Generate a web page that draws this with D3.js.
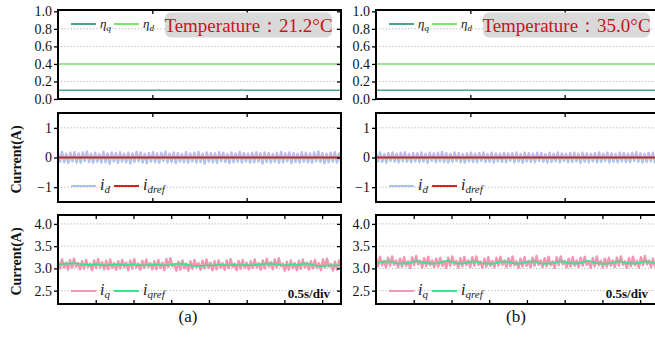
<!DOCTYPE html>
<html lang="en">
<head>
<meta charset="utf-8">
<title>Temperature comparison</title>
<script src="https://cdn.jsdelivr.net/npm/d3@7"></script>
<style>
  body { margin: 0; background: #fff; }
</style>
</head>
<body>
<script>
// ---- data ----
var timeEnd = 3.75;                       // 7.5 div of 0.5 s
var temps = ["21.2", "35.0"];
var panelTags = ["(a)", "(b)"];

var etaQ = [0.1, 0.1];
var etaD = [0.4, 0.4];

var etaTicks = [0, 0.2, 0.4, 0.6, 0.8, 1.0];
var idTicks = [-1, 0, 1];
var iqTicks = [2.5, 3.0, 3.5, 4.0];

var idrefA = [0, 0];
var idrefB = [0, 0];

var idA = [0.17,-0.14,0.19,-0.16,0.13,-0.19,0.16,-0.13,0.18,-0.17,0.14,-0.18,0.17,-0.12,0.20,-0.15,0.13,-0.18,0.16,-0.14,
  0.12,-0.17,0.19,-0.16,0.14,-0.21,0.17,-0.13,0.15,-0.18,0.18,-0.14,0.13,-0.16,0.16,-0.20,0.14,-0.15,0.19,-0.13,
  0.17,-0.17,0.12,-0.19,0.15,-0.14,0.18,-0.16,0.14,-0.18,0.16,-0.12,0.20,-0.17,0.13,-0.15,0.17,-0.19,0.15,-0.14,
  0.12,-0.16,0.18,-0.18,0.14,-0.13,0.16,-0.17,0.19,-0.15,0.13,-0.20,0.17,-0.14,0.15,-0.16,0.14,-0.18,0.18,-0.13,
  0.16,-0.15,0.12,-0.19,0.17,-0.16,0.14,-0.14,0.19,-0.17,0.15,-0.13,0.13,-0.18,0.16,-0.16,0.18,-0.14,0.14,-0.20,
  0.17,-0.15,0.15,-0.17,0.12,-0.14,0.16,-0.18,0.19,-0.16,0.14,-0.13,0.17,-0.19,0.15,-0.15,0.13,-0.17,0.18,-0.14,
  0.16,-0.16,0.14,-0.18,0.17,-0.13,0.20,-0.15,0.15,-0.19,0.13,-0.16,0.16,-0.14,0.18,-0.17,0.14,-0.15];

var idB = [0.15,-0.13,0.17,-0.15,0.12,-0.17,0.15,-0.12,0.17,-0.14,0.13,-0.16,0.16,-0.13,0.18,-0.14,0.12,-0.16,0.15,-0.13,
  0.14,-0.15,0.17,-0.14,0.13,-0.18,0.16,-0.12,0.14,-0.16,0.16,-0.13,0.19,-0.15,0.15,-0.17,0.13,-0.14,0.17,-0.12,
  0.15,-0.16,0.12,-0.17,0.14,-0.13,0.16,-0.15,0.13,-0.16,0.15,-0.12,0.17,-0.15,0.12,-0.14,0.16,-0.17,0.14,-0.13,
  0.13,-0.15,0.16,-0.16,0.14,-0.12,0.15,-0.16,0.17,-0.14,0.12,-0.18,0.16,-0.13,0.14,-0.15,0.13,-0.16,0.16,-0.12,
  0.15,-0.14,0.12,-0.17,0.16,-0.15,0.13,-0.13,0.17,-0.16,0.14,-0.12,0.12,-0.16,0.15,-0.15,0.16,-0.13,0.13,-0.18,
  0.16,-0.14,0.14,-0.16,0.12,-0.13,0.15,-0.16,0.17,-0.15,0.13,-0.12,0.16,-0.17,0.14,-0.14,0.12,-0.16,0.16,-0.13,
  0.15,-0.15,0.13,-0.16,0.16,-0.12,0.18,-0.14,0.14,-0.17,0.12,-0.15,0.15,-0.13,0.16,-0.16,0.13,-0.14];

var iqA = [3.17,3.00,3.20,3.02,3.13,2.97, 3.19,3.01,3.22,3.04,3.12,2.98, 3.16,2.99,3.19,3.03,3.11,2.96,
  3.18,3.01,3.21,3.02,3.14,2.98, 3.17,2.98,3.20,3.01,3.12,2.97, 3.16,3.00,3.19,3.03,3.13,2.96,
  3.18,2.99,3.21,3.02,3.11,2.97, 3.17,3.01,3.20,3.03,3.12,2.98, 3.16,2.98,3.19,3.01,3.13,2.96,
  3.21,3.03,3.23,3.05,3.10,2.95, 3.15,2.97,3.18,3.00,3.11,2.95, 3.16,2.99,3.19,3.02,3.12,2.97,
  3.17,3.00,3.20,3.01,3.13,2.96, 3.16,2.98,3.18,3.02,3.12,2.97, 3.18,3.00,3.21,3.03,3.11,2.96,
  3.17,2.99,3.19,3.01,3.13,2.98, 3.16,3.01,3.20,3.02,3.12,2.97, 3.18,3.00,3.22,3.04,3.14,2.98,
  3.20,3.02,3.23,3.05,3.11,2.95, 3.15,2.97,3.18,3.00,3.12,2.96, 3.17,2.99,3.20,3.02,3.13,2.97,
  3.16,3.00,3.19,3.01,3.12,2.96, 3.20,3.02,3.22,3.04,3.10,2.95, 3.15,2.97,3.18,3.00];

var iqB = [3.23,3.05,3.26,3.07,3.17,3.02, 3.24,3.06,3.27,3.08,3.18,3.03, 3.22,3.04,3.25,3.06,3.16,3.01,
  3.25,3.07,3.28,3.09,3.17,3.02, 3.23,3.05,3.26,3.07,3.18,3.03, 3.22,3.04,3.24,3.06,3.16,3.01,
  3.24,3.06,3.27,3.08,3.17,3.02, 3.23,3.05,3.26,3.07,3.18,3.03, 3.25,3.06,3.27,3.08,3.16,3.01,
  3.22,3.04,3.25,3.06,3.17,3.02, 3.24,3.06,3.26,3.08,3.18,3.03, 3.23,3.05,3.27,3.07,3.16,3.01,
  3.22,3.04,3.25,3.06,3.17,3.02, 3.24,3.06,3.28,3.08,3.18,3.03, 3.23,3.05,3.26,3.07,3.16,3.01,
  3.25,3.07,3.27,3.09,3.17,3.02, 3.22,3.04,3.25,3.06,3.18,3.03, 3.24,3.06,3.26,3.08,3.16,3.01,
  3.23,3.05,3.27,3.07,3.17,3.02, 3.22,3.04,3.24,3.06,3.18,3.03, 3.24,3.06,3.27,3.08,3.16,3.01,
  3.23,3.05,3.26,3.07,3.17,3.02, 3.25,3.07,3.28,3.09,3.18,3.03, 3.22,3.04,3.25,3.06];

var iqrefA = [3.09,3.10,3.11,3.12,3.10,3.08,3.08,3.09,3.08,3.07,3.08,3.09,3.08,3.08,3.09,3.08,3.07,3.08,
  3.09,3.08,3.07,3.08,3.10,3.11,3.09,3.06,3.05,3.06,3.07,3.07,3.08,3.08,3.07,3.08,3.07,3.08,
  3.07,3.08,3.09,3.10,3.11,3.09,3.07,3.08,3.09,3.08,3.11,3.10,3.07,3.05,3.06,3.07,3.07,3.08];

var iqrefB = [3.12,3.14,3.16,3.15,3.12,3.11, 3.11,3.13,3.16,3.16,3.13,3.11, 3.11,3.12,3.15,3.17,3.14,3.11,
  3.11,3.13,3.16,3.15,3.12,3.11, 3.10,3.12,3.15,3.16,3.13,3.11, 3.11,3.13,3.16,3.15,3.12,3.10,
  3.11,3.12,3.15,3.16,3.13,3.11, 3.11,3.13,3.17,3.15,3.12,3.11, 3.10,3.12,3.15,3.16,3.13,3.11,
  3.11,3.13,3.16,3.15,3.12,3.11];

// ---- layout ----
var w = 655, h = 337;
var serif = "'Liberation Serif', 'Times New Roman', serif";
var panelW = 283;
var colX = [58, 376];
var rows = [
  { top: 10, bottom: 99, domain: [0, 1.015], ticks: etaTicks, fmt: d3.format(".1f"), xTicks: [1.25, 2.5] },
  { top: 113, bottom: 202, domain: [-1.5, 1.5], ticks: idTicks, fmt: d3.format("d"), xTicks: [1.25, 2.5] },
  { top: 215, bottom: 304, domain: [2.2, 4.2], ticks: iqTicks, fmt: d3.format(".1f"), xTicks: [0.5, 1, 1.5, 2, 2.5, 3, 3.5] }
];

var colors = {
  etaQ: "#45a98a", etaD: "#77e86a",
  id: "#adc3ec", idref: "#d42222",
  iq: "#f396b2", iqref: "#3de28d"
};

var svg = d3.select("body").append("svg")
  .attr("width", w)
  .attr("height", h)
  .style("font-family", serif);

var defs = svg.append("defs");

function seriesLine(x, y, vals) {
  var n = vals.length;
  return d3.line()
    .x(function(d, i) { return x(i / (n - 1) * timeEnd); })
    .y(function(d) { return y(d); })(vals);
}

function drawPanel(c, r) {
  var row = rows[r];
  var x0 = colX[c];
  var x = d3.scaleLinear().domain([0, timeEnd]).range([x0, x0 + panelW]);
  var y = d3.scaleLinear().domain(row.domain).range([row.bottom, row.top]);
  var g = svg.append("g");
  var clipId = "clip" + c + r;

  defs.append("clipPath").attr("id", clipId)
    .append("rect")
    .attr("x", x0).attr("y", row.top)
    .attr("width", panelW).attr("height", row.bottom - row.top);

  // dotted grid
  g.selectAll(".grid")
    .data(row.ticks.filter(function(t) { return r > 0 || (t > 0 && t < 1); }))
    .enter().append("line")
    .attr("x1", x0).attr("x2", x0 + panelW)
    .attr("y1", function(d) { return y(d); })
    .attr("y2", function(d) { return y(d); })
    .attr("stroke", "#b5b5b5")
    .attr("stroke-width", 1)
    .attr("stroke-dasharray", "1.2,2");

  var plot = g.append("g").attr("clip-path", "url(#" + clipId + ")");

  // series
  var series;
  if (r === 0) {
    series = [[etaQ, colors.etaQ, 1.4], [etaD, colors.etaD, 1.6]];
  } else if (r === 1) {
    series = [[c === 0 ? idA : idB, colors.id, 2.4], [c === 0 ? idrefA : idrefB, colors.idref, 2]];
  } else {
    series = [[c === 0 ? iqA : iqB, colors.iq, 2.4], [c === 0 ? iqrefA : iqrefB, colors.iqref, 1.8]];
  }
  series.forEach(function(s) {
    plot.append("path")
      .attr("d", seriesLine(x, y, s[0]))
      .attr("fill", "none")
      .attr("stroke", s[1])
      .attr("stroke-width", s[2])
      .attr("stroke-linejoin", "round");
  });

  // y axis left (outer ticks with labels)
  g.append("g")
    .attr("transform", "translate(" + x0 + ",0)")
    .call(d3.axisLeft(y).tickValues(row.ticks).tickSize(4).tickPadding(2).tickFormat(row.fmt))
    .call(function(a) {
      a.select(".domain").remove();
      a.attr("font-family", serif).attr("font-size", 14);
      a.selectAll(".tick line").attr("stroke-width", 1.3);
      a.selectAll(".tick text").attr("fill", "#111");
    });

  // y ticks right (inner)
  g.append("g")
    .attr("transform", "translate(" + (x0 + panelW) + ",0)")
    .call(d3.axisLeft(y).tickValues(row.ticks).tickSize(4).tickFormat(""))
    .call(function(a) { a.select(".domain").remove(); a.selectAll(".tick line").attr("stroke-width", 1.3); });

  // x ticks top and bottom (inner)
  g.append("g")
    .attr("transform", "translate(0," + row.top + ")")
    .call(d3.axisBottom(x).tickValues(row.xTicks).tickSize(4).tickFormat(""))
    .call(function(a) { a.select(".domain").remove(); a.selectAll(".tick line").attr("stroke-width", 1.3); });
  g.append("g")
    .attr("transform", "translate(0," + row.bottom + ")")
    .call(d3.axisTop(x).tickValues(row.xTicks).tickSize(4).tickFormat(""))
    .call(function(a) { a.select(".domain").remove(); a.selectAll(".tick line").attr("stroke-width", 1.3); });

  // frame
  g.append("rect")
    .attr("x", x0).attr("y", row.top)
    .attr("width", panelW).attr("height", row.bottom - row.top)
    .attr("fill", "none")
    .attr("stroke", "#000")
    .attr("stroke-width", 2);

  // legend
  var names, legendColors, legY;
  if (r === 0) { names = [["\u03b7", "q"], ["\u03b7", "d"]]; legendColors = [colors.etaQ, colors.etaD]; legY = 24; }
  if (r === 1) { names = [["i", "d"], ["i", "dref"]]; legendColors = [colors.id, colors.idref]; legY = 186; }
  if (r === 2) { names = [["i", "q"], ["i", "qref"]]; legendColors = [colors.iq, colors.iqref]; legY = 291; }
  var big = r === 0 ? 13 : 16, small = r === 0 ? 9 : 11;
  names.forEach(function(nm, k) {
    var lx = x0 + 13 + k * 43;
    g.append("line")
      .attr("x1", lx).attr("x2", lx + 25)
      .attr("y1", legY).attr("y2", legY)
      .attr("stroke", legendColors[k])
      .attr("stroke-width", 2);
    var t = g.append("text")
      .attr("x", lx + 29).attr("y", legY + 4)
      .attr("font-family", serif)
      .attr("font-style", "italic")
      .attr("font-size", big)
      .attr("fill", "#222");
    t.append("tspan").text(nm[0]);
    t.append("tspan").attr("font-size", small).attr("dy", 3).text(nm[1]);
  });

  if (r === 0) {
    var bx = x0 + 107;
    g.append("rect")
      .attr("x", bx).attr("y", 12.5)
      .attr("width", 167).attr("height", 25)
      .attr("rx", 6)
      .attr("fill", "#d9d9d9");
    g.append("text")
      .attr("x", bx + 83.5).attr("y", 31.5)
      .attr("text-anchor", "middle")
      .attr("font-family", serif)
      .attr("font-size", 19)
      .attr("fill", "#c8141e")
      .text("Temperature\uff1a" + temps[c] + "\u00b0C");
  }

  if (r === 2) {
    g.append("text")
      .attr("x", x0 + 272).attr("y", 298)
      .attr("text-anchor", "end")
      .attr("font-family", serif)
      .attr("font-size", 13)
      .attr("font-weight", "bold")
      .attr("fill", "#111")
      .text("0.5s/div");
    g.append("text")
      .attr("x", x0 + (c === 0 ? 130 : 140)).attr("y", 322)
      .attr("text-anchor", "middle")
      .attr("font-family", serif)
      .attr("font-size", 17)
      .attr("fill", "#111")
      .text(panelTags[c]);
  }

  if (c === 0 && r > 0) {
    svg.append("text")
      .attr("transform", "translate(21," + ((row.top + row.bottom) / 2 + 2) + ") rotate(-90)")
      .attr("text-anchor", "middle")
      .attr("font-family", serif)
      .attr("font-size", 14)
      .attr("font-weight", "bold")
      .attr("fill", "#111")
      .text("Current(A)");
  }
}

for (var c = 0; c < 2; c++) {
  for (var r = 0; r < 3; r++) drawPanel(c, r);
}
</script>
</body>
</html>
